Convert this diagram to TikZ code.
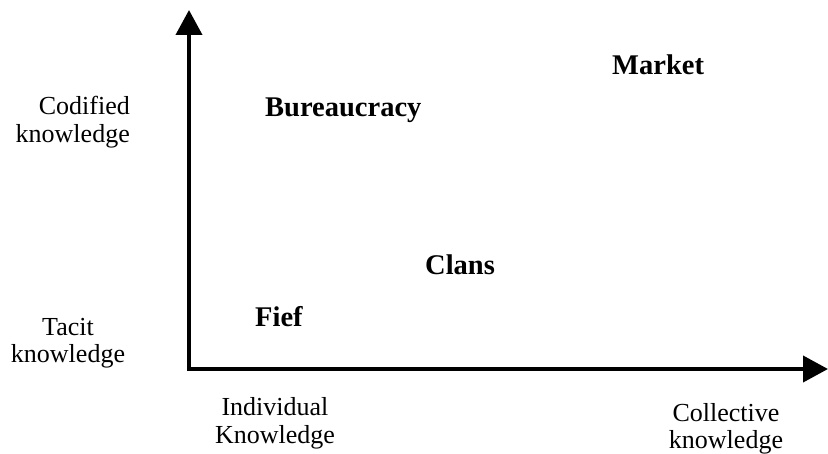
\documentclass[tikz,border=0pt]{standalone}
\usepackage{fontspec}
\setmainfont{Liberation Serif}
\usetikzlibrary{arrows.meta}
\tikzset{
  axisline/.style={line width=4pt, line join=miter,
    {Triangle[length=25pt,width=26pt]}-{Triangle[length=25pt,width=26pt]}},
  axislabel/.style={inner sep=0pt, font=\fontsize{26}{28}\selectfont},
  formlabel/.style={inner sep=0pt, anchor=base west, font=\fontsize{28.5}{32}\selectfont\bfseries}
}
\begin{document}
\begin{tikzpicture}[x=1pt,y=-1pt]
	\useasboundingbox (0,0) rectangle (828,454);
	\coordinate (origin) at (189,369);
	\coordinate (ytip) at (189,10);
	\coordinate (xtip) at (828,369);
	\draw[axisline] (ytip) -- (origin) -- (xtip);
	% two-line labels: base is the last line
	\node[axislabel, anchor=base east, align=right] (codified) at (130,143) {Codified\\knowledge};
	\node[axislabel, anchor=base, align=center] (tacit) at (68,363) {Tacit\\knowledge};
	\node[axislabel, anchor=base, align=center] (individual) at (275,443) {Individual\\Knowledge};
	\node[axislabel, anchor=base, align=center] (collective) at (726,449) {Collective\\knowledge};
	\node[formlabel] (bureaucracy) at (265,117) {Bureaucracy};
	\node[formlabel] (market) at (612,75) {Market};
	\node[formlabel] (clans) at (425,275) {Clans};
	\node[formlabel] (fief) at (255,327) {Fief};
\end{tikzpicture}
\end{document}
